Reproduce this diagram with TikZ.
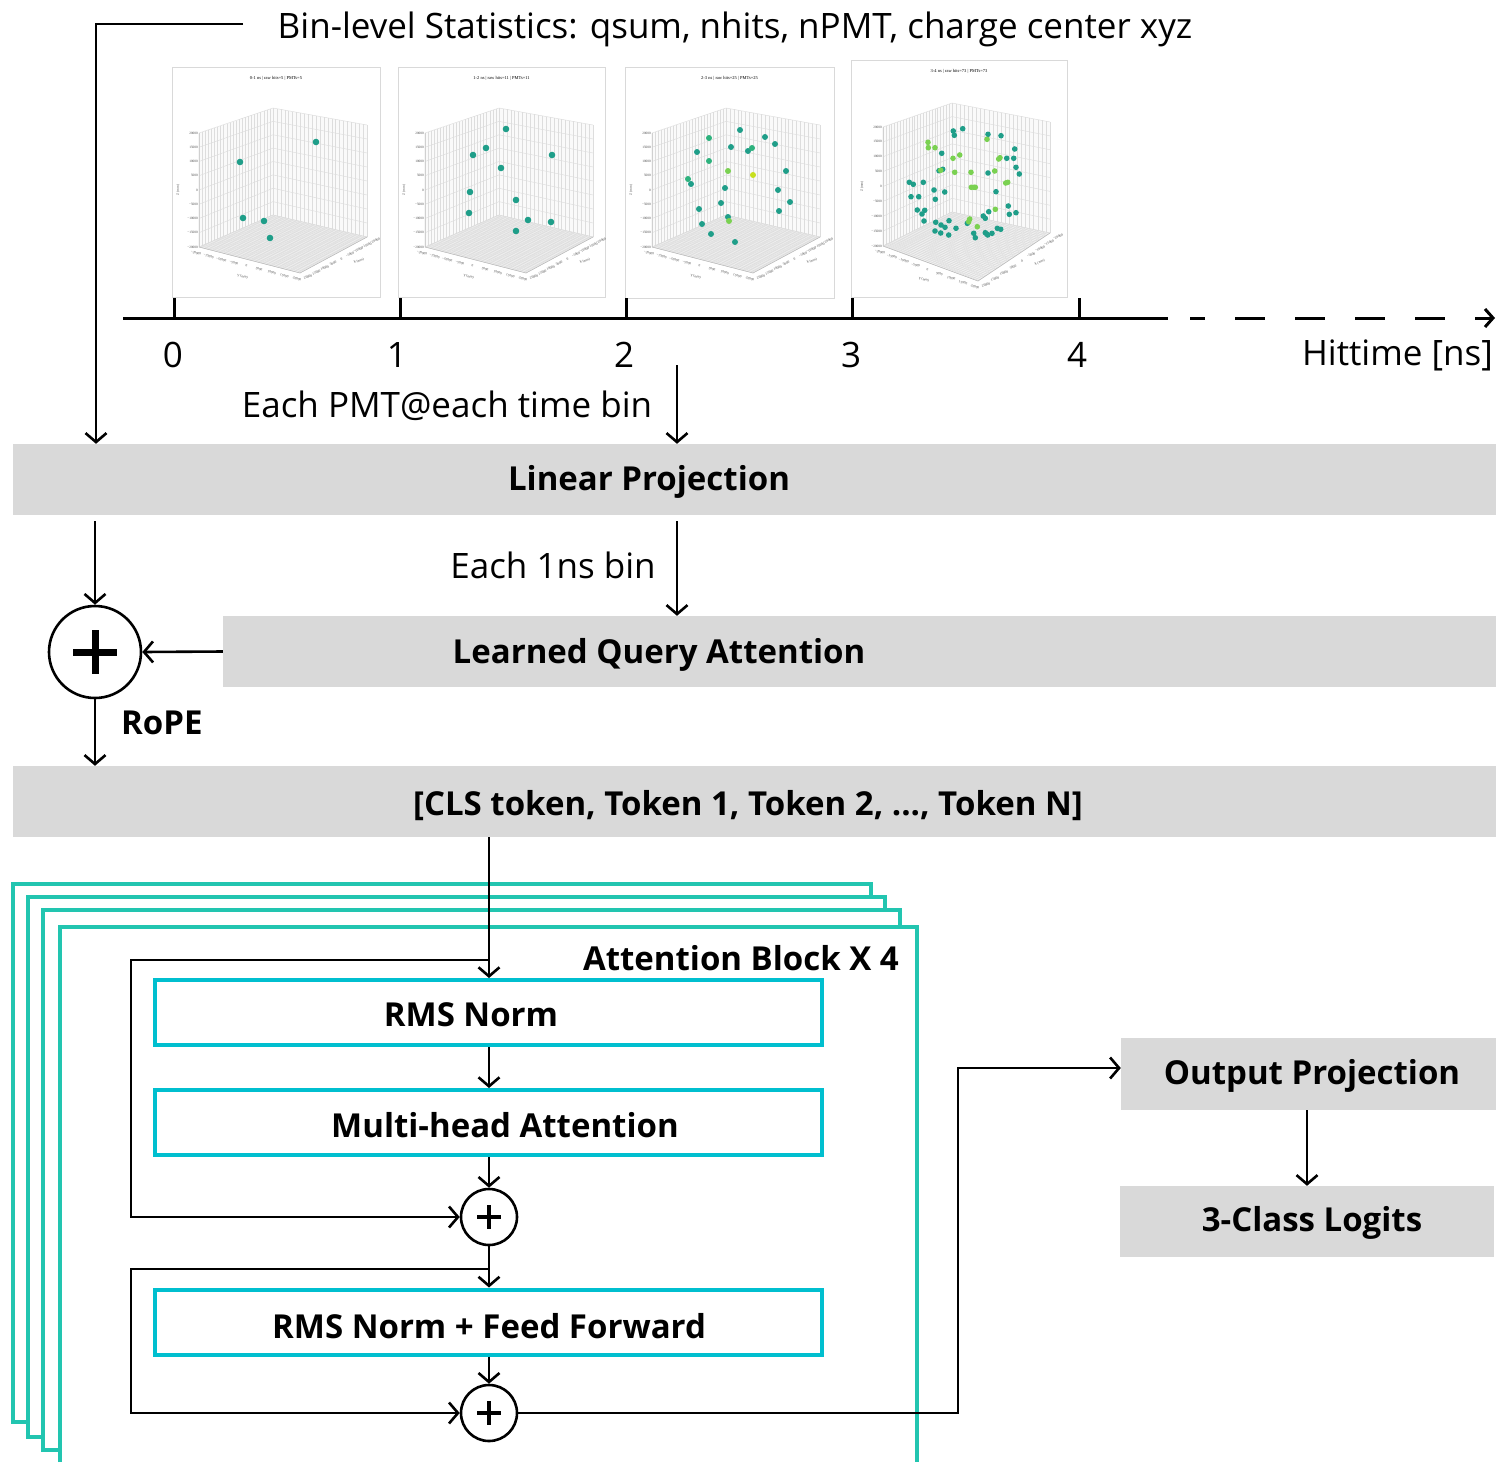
\documentclass[tikz,border=0pt]{standalone}
\usepackage{fontspec}
\setmainfont{Open Sans}
\newfontfamily\plotfont{Liberation Serif}
\usetikzlibrary{arrows.meta,calc}
\definecolor{boxgray}{HTML}{D9D9D9}
\definecolor{frameteal}{HTML}{22C5B0}
\definecolor{innercyan}{HTML}{00BFCF}
\definecolor{dotteal}{HTML}{1F9E89}
\definecolor{dotgreen}{HTML}{2DB27D}
\definecolor{dotlime}{HTML}{7AD151}
\definecolor{dotyellow}{HTML}{C8E020}
\definecolor{gridc}{HTML}{DDDDDD}
\newcommand{\fsz}{\fontsize{33}{40}\selectfont}
\newcommand{\fszr}{\fontsize{35}{42}\selectfont}
\newcommand{\geomA}{%
\coordinate (LT) at (27,66); \coordinate (LB) at (27,180);
\coordinate (BT) at (101,41); \coordinate (BB) at (101,148);
\coordinate (RT) at (195,58); \coordinate (RB) at (195,170);
\coordinate (F) at (128,206);}
\newcommand{\geomB}{%
\coordinate (LT) at (32,67); \coordinate (LB) at (32,186);
\coordinate (BT) at (101,43); \coordinate (BB) at (101,152);
\coordinate (RT) at (199,62); \coordinate (RB) at (199,173);
\coordinate (F) at (127,221);}
\newcommand{\plotpanel}[7]{%
\begin{scope}[shift={(#1,#2)}]
\draw[draw=gray!30, line width=0.8pt, fill=white] (0,0) rectangle (#3,#4);
\node[ptitle] (#6t) at (#3/2,11) {#5};
#7
\fill[gray!4] (LT) -- (BT) -- (BB) -- (LB) -- cycle;
\fill[gray!4] (BT) -- (RT) -- (RB) -- (BB) -- cycle;
\fill[gray!12] (LB) -- (BB) -- (RB) -- (F) -- cycle;
\foreach \i in {0,...,24}{\pgfmathsetmacro\t{\i/24}
  \draw[gridl] ($(LB)!\t!(BB)$) -- ($(LT)!\t!(BT)$);
  \draw[gridl] ($(BB)!\t!(RB)$) -- ($(BT)!\t!(RT)$);}
\foreach \i in {0,...,8}{\pgfmathsetmacro\t{\i/8}
  \draw[gridl] ($(LT)!\t!(LB)$) -- ($(BT)!\t!(BB)$) -- ($(RT)!\t!(RB)$);}
\foreach \i in {0,...,36}{\pgfmathsetmacro\t{\i/36}
  \draw[gridf] ($(LB)!\t!(BB)$) -- ($(F)!\t!(RB)$);
  \draw[gridf] ($(LB)!\t!(F)$) -- ($(BB)!\t!(RB)$);}
\draw[gray!55, line width=0.5pt] (LT) -- (LB) -- (F) -- (RB);
\foreach \i/\lab in {0/20000,1/15000,2/10000,3/5000,4/0,5/−5000,6/−10000,7/−15000,8/−20000}{%
  \pgfmathsetmacro\t{\i/8}
  \node[ptick,anchor=east] (#6z\i) at ($(LT)!\t!(LB)+(-1,0)$) {\lab};}
\foreach \i/\lab in {0/−20000,1/−15000,2/−10000,3/−5000,4/0,5/5000,6/10000,7/15000,8/20000}{%
  \pgfmathsetmacro\t{\i/8}
  \node[ptick,rotate=-15] (#6y\i) at ($(LB)!\t!(F)+(-3,6)$) {\lab};}
\foreach \i/\lab in {0/20000,1/15000,2/10000,3/5000,4/0,5/−5000,6/−10000,7/−15000,8/−20000}{%
  \pgfmathsetmacro\t{\i/8}
  \node[ptick,rotate=22] (#6x\i) at ($(F)!\t!(RB)+(8,4)$) {\lab};}
\node[ptick,rotate=90] (#6zl) at ($(LT)!0.5!(LB)+(-21,0)$) {Z (mm)};
\node[ptick,rotate=-15] (#6yl) at ($(LB)!0.45!(F)+(-2,18)$) {Y (mm)};
\node[ptick,rotate=22] (#6xl) at ($(F)!0.55!(RB)+(22,8)$) {X (mm)};
\end{scope}}
\newcommand{\dt}[3]{\fill[#1] (#2,#3) circle[radius=\dotr];}
\def\dotr{3.3}
\begin{document}
\begin{tikzpicture}[x=1pt,y=-1pt,
  graybox/.style={fill=boxgray, draw=none, inner sep=0pt, minimum height=71pt},
  cyanbox/.style={draw=innercyan, line width=4pt, fill=white, minimum width=667pt, minimum height=65pt, inner sep=0pt},
  tealframe/.style={draw=frameteal, line width=4pt, fill=white},
  lbl/.style={font=\fszr, inner sep=0pt},
  blbl/.style={font=\fsz\bfseries, inner sep=0pt},
  conn/.style={line width=2.5pt},
  arr/.style={line width=2.6pt, -{Straight Barb[length=9pt,width=21pt]}},
  sumbig/.style={circle, draw, line width=2.6pt, minimum size=92pt, inner sep=0pt, fill=white,
    path picture={\draw[line width=7pt] ($(path picture bounding box.center)+(-22,0)$) -- ($(path picture bounding box.center)+(22,0)$);
      \draw[line width=7pt] ($(path picture bounding box.center)+(0,-22)$) -- ($(path picture bounding box.center)+(0,22)$);}},
  sumsmall/.style={circle, draw, line width=2.6pt, minimum size=56pt, inner sep=0pt, fill=white,
    path picture={\draw[line width=3.5pt] ($(path picture bounding box.center)+(-12,0)$) -- ($(path picture bounding box.center)+(12,0)$);
      \draw[line width=3.5pt] ($(path picture bounding box.center)+(0,-12)$) -- ($(path picture bounding box.center)+(0,12)$);}},
  ptitle/.style={font=\plotfont\fontsize{4.5}{5}\selectfont, inner sep=0pt},
  ptick/.style={font=\plotfont\fontsize{3.4}{4}\selectfont, inner sep=0pt, text=black!70},
  gridl/.style={draw=gridc, line width=0.45pt},
  gridf/.style={draw=gray!28, line width=0.35pt}
]
\useasboundingbox (0,0) rectangle (1496,1462);
\fill[white] (0,0) rectangle (1496,1462);

% ---------- scatter panels ----------
\plotpanel{172}{67}{208}{230}{0-1 ns | raw hits=5 | PMTs=5}{pa}{\geomA}
\begin{scope}[shift={(172,67)}]
\foreach \x/\y in {68/95,144/75,71/151,92/154,98/171}{\dt{dotteal}{\x}{\y}}
\end{scope}
\plotpanel{398}{67}{207}{230}{1-2 ns | raw hits=11 | PMTs=11}{pb}{\geomA}
\begin{scope}[shift={(398,67)}]
\foreach \x/\y in {108/62,88/81,75/88,154/88,103/101,72/125,118/133,71/146,130/153,153/155,118/164}{\dt{dotteal}{\x}{\y}}
\end{scope}
\plotpanel{625}{67}{209}{231}{2-3 ns | raw hits=25 | PMTs=25}{pc}{\geomA}
\begin{scope}[shift={(625,67)}]
\def\dotr{3}
\foreach \x/\y in {115/63,140/70,150/77,106/80,123/84,72/85,161/104,66/117,100/121,153/123,96/136,165/135,74/142,154/144,103/150,77/157,86/167,110/175}{\dt{dotteal}{\x}{\y}}
\foreach \x/\y in {84/71,127/81,84/94,63/112}{\dt{dotgreen}{\x}{\y}}
\foreach \x/\y in {103/104,104/154}{\dt{dotlime}{\x}{\y}}
\dt{dotyellow}{128}{108}
\end{scope}
\plotpanel{851}{60}{216}{237}{3-4 ns | raw hits=73 | PMTs=73}{pd}{\geomB}
\begin{scope}[shift={(851,60)}]
\def\dotr{2.8}
\foreach \x/\y in {102.3/71,111.7/68.7,103.3/75.3,137/74.3,150/75.7,90.7/93.3,163.7/89,155.7/98.3,162.7/98.3,
  91.7/109.3,88/110.7,137/113,165/107.3,168.3/114,58.3/122.3,62.3/124.3,72.3/122.3,83/130,93.7/132,145/131.7,
  60/136.7,67.7/136.7,84.3/139.3,157.3/146,165/152.7,66.3/150,73.7/150.3,137.7/151.7,71/154,158.3/154.3,
  132.3/156,134.3/158.3,116.3/163.3,98/160.7,73/161,84.7/162.3,90/165,94/167.3,105/168.3,84/171,89.7/173,
  97.7/175,146.3/168.3,149.7/169.3,134.3/172.7,135.7/174,136.7/175,141/173.3,124.3/177.7,122.7/173.3}{\dt{dotteal}{\x}{\y}}
\foreach \x/\y in {136/79.3,77/82.3,77.3/87.7,84/87.7,108.7/95,102/98.3,147.7/99,149/97.7,89.7/110.3,
  103.7/112.3,120/112.3,143.7/111,154.7/123,156.7/122.3,120.3/127.3,123/127.3,124.3/127.3,144.3/149.3,
  118.7/159,117.7/161.7,126.3/166.7}{\dt{dotlime}{\x}{\y}}
\end{scope}

% ---------- time axis ----------
\coordinate (ax0) at (123,318);
\coordinate (ax1) at (1168,318);
\draw[line width=3pt] (ax0) -- (ax1);
\foreach \x/\n in {174/0,400/1,626/2,852/3,1079/4}{
  \coordinate (tk\n) at (\x,318);
  \draw[line width=3pt] (tk\n) -- ++(0,-20);}
\coordinate (dz0) at (1190,318);
\coordinate (dz1) at (1495,318);
\draw[line width=3pt, dash pattern=on 30pt off 30pt, dash phase=15pt, -{Straight Barb[length=8pt,width=18pt]}] (dz0) -- (dz1);
\node[lbl] (n0) at (173,355) {0};
\node[lbl] (n1) at (397,355) {1};
\node[lbl] (n2) at (624,355) {2};
\node[lbl] (n3) at (851,355) {3};
\node[lbl] (n4) at (1077,355) {4};
\node[lbl,anchor=east] (htime) at (1493,355) {Hittime [ns]};

% ---------- top text ----------
\node[lbl] (stats) at (735,29) {Bin-level Statistics: qsum, nhits, nPMT, charge center xyz};
\node[lbl] (pmtl) at (447,406) {Each PMT@each time bin};
\node[lbl] (binl) at (553,565) {Each 1ns bin};

% ---------- gray boxes ----------
\node[graybox, minimum width=1483pt] (lp) at (754.5,479.5) {};
\node[blbl] (lpt) at (649,482) {Linear Projection};
\node[graybox, minimum width=1273pt] (lqa) at (859.5,651.5) {};
\node[blbl] (lqat) at (659,655) {Learned Query Attention};
\node[graybox, minimum width=1483pt] (cls) at (754.5,801.5) {};
\node[blbl] (clst) at (748,806) {[CLS token, Token 1, Token 2, ..., Token N]};
\node[sumbig] (plus) at (95,652) {};
\node[blbl,anchor=west] (rope) at (121,723) {RoPE};

% ---------- attention frames ----------
\path[tealframe] (13,884) rectangle (871,1422);
\path[tealframe] (28,897) rectangle (885,1437);
\path[tealframe] (43,910) rectangle (900,1450);
\fill[white] (60,927) rectangle (917,1462);
\draw[frameteal, line width=4pt] (60,1462) -- (60,927) -- (917,927) -- (917,1462);
\node[blbl,anchor=east] (attn) at (899,958) {Attention Block X 4};

\node[cyanbox] (rms) at (488.5,1012.5) {};
\node[blbl] (rmst) at (471,1015) {RMS Norm};
\node[cyanbox] (mha) at (488.5,1122.5) {};
\node[blbl] (mhat) at (505,1125) {Multi-head Attention};
\node[sumsmall] (add1) at (489,1217) {};
\node[cyanbox] (ff) at (488.5,1322) {};
\node[blbl] (fft) at (489,1326) {RMS Norm + Feed Forward};
\node[sumsmall] (add2) at (489,1413) {};

\node[graybox, minimum width=375pt, minimum height=72pt] (op) at (1308.5,1074) {};
\node[blbl] (opt) at (1312,1076) {Output Projection};
\node[graybox, minimum width=374pt] (logits) at (1307,1221.5) {};
\node[blbl] (logt) at (1312,1223) {3-Class Logits};

% ---------- connectors ----------
\coordinate (s0) at (243,24);
\coordinate (s1) at (96,24);
\draw[arr] (s0) -- (s1) -- (s1 |- lp.north);
\coordinate (pmt) at (677,365);
\draw[arr] (pmt) -- (pmt |- lp.north);
\draw[arr, shorten <=6pt] (lp.south -| plus) -- (plus.north);
\draw[arr, shorten <=6pt] (lp.south -| pmt) -- (lqa.north -| pmt);
\draw[arr] (lqa.west) -- (plus.east);
\draw[arr] (plus.south) -- (plus |- cls.north);
\draw[arr] (cls.south -| add1) -- (rms.north -| add1);
\coordinate (r1) at (489,960);
\coordinate (b1) at (131,960);
\coordinate (b2) at (131,1217);
\draw[arr] (r1) -- (b1) -- (b2) -- (add1.west);
\draw[arr] (rms.south -| add1) -- (mha.north -| add1);
\draw[arr] (mha.south -| add1) -- (add1.north);
\draw[arr] (add1.south) -- (ff.north -| add1);
\coordinate (r2) at (489,1269);
\coordinate (b3) at (131,1269);
\coordinate (b4) at (131,1413);
\draw[arr] (r2) -- (b3) -- (b4) -- (add2.west);
\draw[arr] (ff.south -| add2) -- (add2.north);
\coordinate (c1) at (958,1413);
\coordinate (c2) at (958,1068);
\draw[arr] (add2.east) -- (c1) -- (c2) -- (op.west |- c2);
\draw[arr] (op.south -| logits.north) -- (logits.north);
\end{tikzpicture}
\end{document}
